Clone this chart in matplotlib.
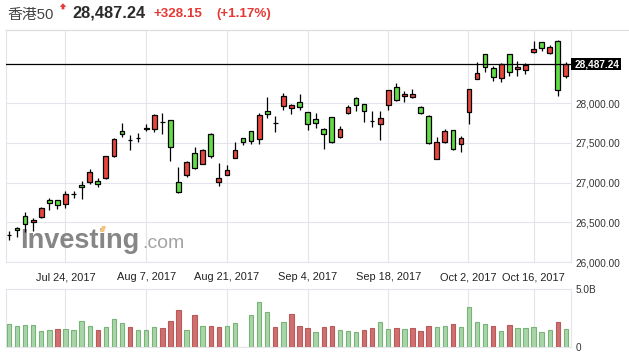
import numpy as np
import matplotlib
matplotlib.use('Agg')
import matplotlib.pyplot as plt
from matplotlib.patches import Rectangle, Polygon
from matplotlib.lines import Line2D
from matplotlib.transforms import blended_transform_factory

plt.rcParams['font.family'] = ['Liberation Sans', 'Noto Sans CJK SC', 'DejaVu Sans']

# daily candles, 13 Jul 2017 .. 20 Oct 2017 (trading days)
opens = np.array([26340, 26425, 26576, 26500, 26563, 26778, 26778, 26727, 26855, 26969,
                  27003, 27020, 27053, 27328, 27646, 27532, 27564, 27670, 27677, 27761,
                  27784, 27003, 27091, 27369, 27237, 27607, 27003, 27101, 27312, 27558,
                  27646, 27544, 27897, 27751, 27959, 27933, 28010, 27884, 27795, 27669,
                  27822, 27569, 27871, 28059, 27984, 27778, 27732, 27972, 28199, 28092,
                  28079, 27947, 27843, 27302, 27507, 27658, 27491, 27883, 28308, 28612,
                  28436, 28318, 28612, 28424, 28411, 28647, 28763, 28625, 28776, 28343])
highs = np.array([26385, 26437, 26626, 26551, 26690, 26800, 26785, 26894, 26894, 27017,
                  27170, 27053, 27334, 27560, 27746, 27595, 27619, 27732, 27862, 27874,
                  27790, 27196, 27271, 27444, 27419, 27623, 27246, 27221, 27510, 27562,
                  27650, 27872, 28075, 27837, 28123, 27987, 28111, 27890, 27874, 27686,
                  27830, 27707, 27972, 28075, 27990, 27896, 27896, 28165, 28249, 28151,
                  28173, 27962, 27848, 27570, 27673, 27662, 27585, 28180, 28512, 28617,
                  28465, 28499, 28617, 28524, 28497, 28776, 28770, 28732, 28789, 28518])
lows = np.array([26272, 26312, 26378, 26397, 26560, 26649, 26671, 26684, 26802, 26797,
                 26988, 26940, 27048, 27325, 27579, 27415, 27514, 27648, 27632, 27613,
                 27275, 26872, 27064, 27175, 27235, 27312, 26960, 27098, 27310, 27466,
                 27491, 27491, 27815, 27639, 27918, 27866, 27918, 27664, 27690, 27426,
                 27501, 27565, 27868, 27896, 27757, 27702, 27529, 27915, 28029, 28019,
                 28059, 27858, 27490, 27298, 27503, 27414, 27388, 27740, 28303, 28386,
                 28280, 28258, 28336, 28343, 28368, 28625, 28650, 28620, 28092, 28318])
closes = np.array([26340, 26400, 26475, 26529, 26676, 26739, 26714, 26850, 26855, 26938,
                   27129, 26978, 27330, 27547, 27607, 27532, 27564, 27685, 27845, 27761,
                   27443, 26885, 27255, 27179, 27407, 27334, 27053, 27155, 27405, 27506,
                   27519, 27845, 27858, 27751, 28084, 27971, 27946, 27732, 27745, 27607,
                   27512, 27669, 27946, 27971, 27896, 27778, 27808, 28160, 28040, 28119,
                   28111, 27871, 27493, 27506, 27646, 27418, 27563, 28176, 28375, 28449,
                   28321, 28486, 28386, 28453, 28475, 28685, 28690, 28706, 28159, 28487.24])
# volume in billions
volumes = np.array([2.01, 1.84, 1.93, 1.93, 1.41, 1.49, 1.58, 1.58, 1.49, 2.27,
                    1.84, 1.49, 1.75, 2.44, 2.10, 1.75, 1.49, 1.49, 1.75, 1.67,
                    2.27, 3.22, 1.49, 2.79, 1.84, 1.84, 1.75, 1.84, 2.10, 0.0,
                    2.79, 3.91, 3.05, 1.75, 2.18, 2.87, 1.84, 1.67, 1.32, 1.72,
                    1.81, 1.47, 1.41, 1.32, 1.47, 1.64, 2.16, 1.55, 1.64, 1.55,
                    1.64, 1.41, 1.81, 1.72, 1.81, 2.01, 1.72, 3.45, 2.16, 2.01,
                    1.81, 1.41, 1.93, 1.64, 1.64, 1.72, 1.32, 1.47, 2.18, 1.55])

date_pos = [7, 17, 27, 37, 47, 56.85, 65]
date_labels = ['Jul 24, 2017', 'Aug 7, 2017', 'Aug 21, 2017', 'Sep 4, 2017',
               'Sep 18, 2017', 'Oct 2, 2017', 'Oct 16, 2017']
price_ticks = [26000, 26500, 27000, 27500, 28000]
last = 28487.24
change = 328.15
change_pct = 1.17

W, H = 629, 360
RED, GREEN = '#e8463c', '#62dc45'
VRED, VRED_E = '#cf6f6f', '#b85a5a'
VGREEN, VGREEN_E = '#a8d5a8', '#78b478'
GRID = '#e4e4ec'


def px_axes(x0, y0, x1, y1):
    return [x0 / W, 1 - y1 / H, (x1 - x0) / W, (y1 - y0) / H]


fig = plt.figure(figsize=(W / 100, H / 100), dpi=100)
ax = fig.add_axes(px_axes(6, 30, 571, 262.1))
vax = fig.add_axes(px_axes(6, 289.3, 571, 347.3), sharex=ax)

x = np.arange(len(closes))
doji = opens == closes
up = closes > opens
body_col = np.where(doji, 'black', np.where(up, RED, GREEN))

ax.vlines(x, lows, highs, color='black', lw=0.9, zorder=2)
ax.bar(x, np.abs(closes - opens), bottom=np.minimum(opens, closes), width=0.58,
       color=body_col, edgecolor='black', linewidth=0.9, zorder=3)
ax.axhline(last, color='black', lw=0.9, zorder=4)

ymax = 28918
ax.set_xlim(-0.37, 69.64)
ax.set_ylim(26000, ymax)
ax.set_xticks(date_pos)
ax.set_yticks(price_ticks)
ax.set_yticklabels([f'{v:,.2f}' for v in price_ticks])
ax.yaxis.tick_right()
ax.tick_params(axis='x', length=0, labelbottom=False)
ax.tick_params(axis='y', length=0, pad=3.4, labelsize=7.2, labelcolor='#333333')
ax.grid(True, color=GRID, lw=0.8, zorder=0)
ax.set_axisbelow(True)

# volume panel (colour by close vs previous close)
prev = np.r_[closes[0], closes[:-1]]
vup = closes >= prev
vax.bar(x, volumes, width=0.54, color=np.where(vup, VGREEN, VRED),
        edgecolor=np.where(vup, VGREEN_E, VRED_E), linewidth=0.8, zorder=3)
vax.set_ylim(0, 5.0)
vax.set_yticks([0, 5.0])
vax.set_yticklabels(['0', '5.0B'])
vax.yaxis.tick_right()
vax.tick_params(axis='x', length=0, labelbottom=False)
vax.tick_params(axis='y', length=0, pad=3.4, labelsize=7.2, labelcolor='#333333')
vax.grid(True, axis='x', color=GRID, lw=0.8, zorder=0)
vax.set_axisbelow(True)

for a in (ax, vax):
    for s in a.spines.values():
        s.set_color(GRID)
        s.set_linewidth(0.8)

# date labels in the band between the panels
tr = blended_transform_factory(ax.transData, fig.transFigure)
for p, lab in zip(date_pos, date_labels):
    ax.text(p, 1 - 280.5 / H, lab, transform=tr, ha='center', va='baseline',
            fontsize=7.9, color='#222222', clip_on=False)

# last price box on the right axis
ab = ax.get_position()
yc = ab.y0 + ab.height * (last - 26000) / (ymax - 26000)
fig.add_artist(Rectangle((570.7 / W, yc - 6.2 / H), 50 / W, 12.4 / H,
                         transform=fig.transFigure, fc='black', ec='none'))
fig.text(574.5 / W, yc, f'{last:,.2f}', ha='left', va='center', color='white',
         fontsize=7.2, fontweight='bold')

# watermark
ax.text(20 / 565 * 0 + (20 - 6) / 565, 1 - (248.3 - 30) / 232.1, 'Investing',
        transform=ax.transAxes, fontsize=19.5, fontweight='bold', color='#868686',
        ha='left', va='baseline', zorder=1)
ax.text((142 - 6) / 565, 1 - (248.3 - 30) / 232.1, '.com',
        transform=ax.transAxes, fontsize=14, color='#a4a4a4',
        ha='left', va='baseline', zorder=1)
fig.add_artist(Polygon([(100 / W, 1 - 232 / H), (104 / W, 1 - 232 / H),
                        (106 / W, 1 - 226 / H), (102 / W, 1 - 226 / H)],
                       closed=True, transform=fig.transFigure, fc='#f6c47c', ec='none'))

# header
fig.add_artist(Line2D([6 / W, 1], [1 - 29.5 / H] * 2, color='#dddddd', lw=0.8))
fig.text(7 / W, 1 - 19.3 / H, '香港50', fontsize=10.7, color='#444444', va='baseline')
fig.add_artist(Polygon([(63 / W, 1 - 3.3 / H), (66.3 / W, 1 - 6.8 / H), (64.4 / W, 1 - 6.8 / H),
                        (64.4 / W, 1 - 9.3 / H), (61.6 / W, 1 - 9.3 / H), (61.6 / W, 1 - 6.8 / H),
                        (59.7 / W, 1 - 6.8 / H)],
                       closed=True, transform=fig.transFigure, fc='#e53935', ec='none'))
fig.text(72.7 / W, 1 - 17.3 / H, f'{last:,.2f}', fontsize=11.8, fontweight='bold',
         color='#2b2b2b', va='baseline')
fig.text(154 / W, 1 - 16.7 / H, f'+{change:.2f}', fontsize=9.6, fontweight='bold',
         color='#e53935', va='baseline')
fig.text(216 / W, 1 - 16.7 / H, f'(+{change_pct:.2f}%)', fontsize=9.6, fontweight='bold',
         color='#e53935', va='baseline')

fig.savefig('out.png', dpi=100)
